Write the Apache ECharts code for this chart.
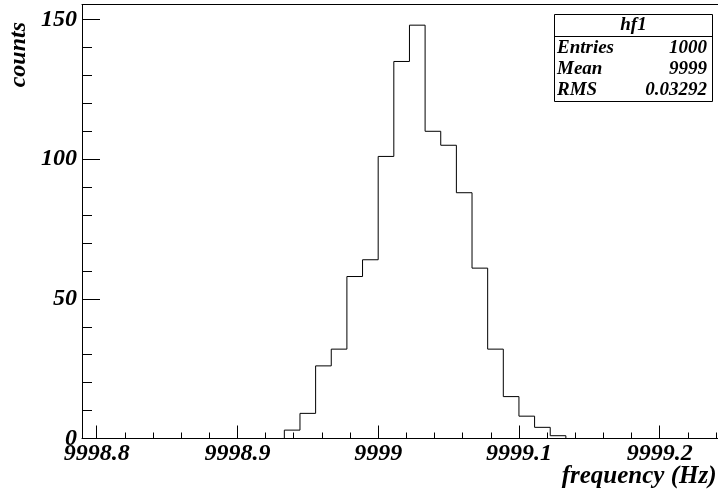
<!DOCTYPE html>
<html>
<head>
<meta charset="utf-8">
<script src="https://cdn.jsdelivr.net/npm/echarts@6/dist/echarts.min.js"></script>
<style>
  html, body { margin: 0; padding: 0; background: #fff; }
  #main { width: 718px; height: 495px; }
</style>
</head>
<body>
<div id="main"></div>
<script>
// histogram hf1: bin layout and counts
const firstEdge = 9998.933333;
const binWidth = 0.0111111;
const counts = [3, 9, 26, 32, 58, 64, 101, 135, 148, 110, 105, 88, 61, 32, 15, 8, 4, 1];

// axes
const xRange = [9998.7896, 9999.2414];
const yRange = [0, 155.4];
const yTicks = [0, 50, 100, 150];

// stats box rows
const statLabels = ['Entries', 'Mean', 'RMS'];
const statValues = ['1000', '9999', '0.03292'];

const font = 'Liberation Serif';

// outline points for a step line
const pts = [[firstEdge, 0]];
counts.forEach(function (c, i) {
    pts.push([firstEdge + i * binWidth, c]);
});
pts.push([firstEdge + counts.length * binWidth, 0]);

const myChart = echarts.init(document.getElementById('main'), null, { renderer: 'canvas' });

const labelStyle = {
    fontFamily: font, fontStyle: 'italic', fontWeight: 'bold', fontSize: 24, color: '#000'
};

function statStyle(text, align) {
    return { text: text, fontFamily: font, fontStyle: 'italic', fontWeight: 'bold', fontSize: 19,
        fill: '#000', textAlign: align, textVerticalAlign: 'middle' };
}

const statText = [];
const rowY = [48.5, 69.5, 90.5];
statLabels.forEach(function (s, i) {
    statText.push({ type: 'text', x: 557, y: rowY[i], style: statStyle(s, 'left') });
    statText.push({ type: 'text', x: 707, y: rowY[i], style: statStyle(statValues[i], 'right') });
});

const option = {
    animation: false,
    grid: { left: 82, right: 0, top: 4.5, bottom: 56.5 },
    xAxis: [{
        type: 'value',
        min: xRange[0],
        max: xRange[1],
        splitNumber: 5,
        axisLine: { lineStyle: { color: '#000', width: 1 } },
        axisTick: { inside: true, length: 13, lineStyle: { color: '#000' } },
        minorTick: { show: true, splitNumber: 5, length: 6, lineStyle: { color: '#000' } },
        splitLine: { show: false },
        axisLabel: Object.assign({ margin: 3, showMinLabel: false, showMaxLabel: false,
            formatter: function (v) { return String(Math.round(v * 10) / 10); } }, labelStyle)
    }, {
        type: 'value', position: 'top',
        min: xRange[0], max: xRange[1],
        axisLine: { show: true, lineStyle: { color: '#000', width: 1 } },
        axisTick: { show: false }, axisLabel: { show: false }, splitLine: { show: false }
    }],
    yAxis: [{
        type: 'value',
        min: yRange[0],
        max: yRange[1],
        interval: yTicks[1] - yTicks[0],
        axisLine: { show: true, lineStyle: { color: '#000', width: 1 } },
        axisTick: { inside: true, length: 18, lineStyle: { color: '#000' } },
        minorTick: { show: true, splitNumber: 5, length: 10, lineStyle: { color: '#000' } },
        splitLine: { show: false },
        axisLabel: Object.assign({ margin: 5, showMaxLabel: false }, labelStyle)
    }],
    series: [{
        type: 'line',
        step: 'end',
        data: pts,
        symbol: 'none',
        lineStyle: { color: '#000', width: 1 }
    }],
    graphic: [
        {
            type: 'text', left: 7, top: 22, rotation: Math.PI / 2,
            style: { text: 'counts', fontFamily: font, fontStyle: 'italic', fontWeight: 'bold', fontSize: 24, fill: '#000' }
        },
        {
            type: 'text', x: 716.5, y: 476.5,
            style: { text: 'frequency (Hz)', fontFamily: font, fontStyle: 'italic', fontWeight: 'bold', fontSize: 25,
                fill: '#000', textAlign: 'right', textVerticalAlign: 'middle' }
        },
        {
            type: 'rect', shape: { x: 554.5, y: 14.5, width: 158, height: 87 },
            style: { fill: '#fff', stroke: '#000', lineWidth: 1 }
        },
        {
            type: 'line', shape: { x1: 554.5, y1: 36.5, x2: 712.5, y2: 36.5 },
            style: { stroke: '#000', lineWidth: 1 }
        },
        { type: 'text', x: 633.5, y: 25.5, style: statStyle('hf1', 'center') }
    ].concat(statText)
};

option && myChart.setOption(option);
</script>
</body>
</html>
